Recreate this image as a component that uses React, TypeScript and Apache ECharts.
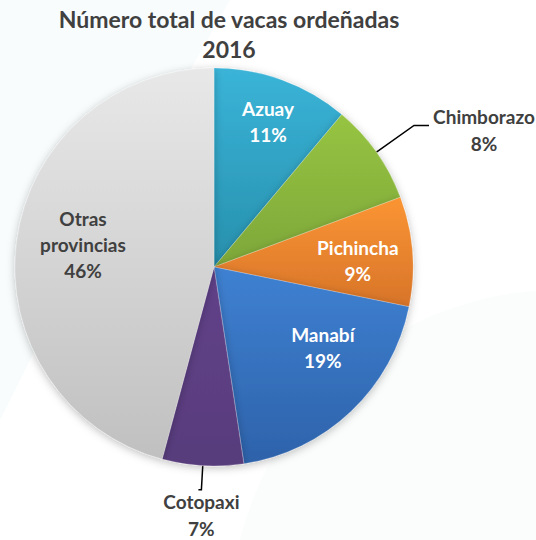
import React, { useEffect, useRef } from "react";
import * as echarts from "echarts";

const titleLines = ["Número total de vacas ordeñadas", "2016"];
const categories = ["Azuay", "Chimborazo", "Pichincha", "Manabí", "Cotopaxi", "Otras provincias"];
const shares = [11.1, 8.2, 8.9, 19.4, 6.6, 45.8];
const labelPercents = [11, 8, 9, 19, 7, 46];
const labelNames = ["Azuay", "Chimborazo", "Pichincha", "Manabí", "Cotopaxi", "Otras\nprovincias"];

const topColors = ["#3AB4D8", "#96C442", "#FB9533", "#3F81D2", "#61428A", "#E8E8E8"];
const bottomColors = ["#2790AD", "#7EA739", "#D7742A", "#2D62AA", "#583C7C", "#C0C0C0"];
const innerOffsets: Record<number, number[]> = { 0: [4, -8], 2: [-2, 5], 3: [8, -26], 5: [14, -3] };
const CHIMBORAZO = 1;
const COTOPAXI = 4;

export default function App() {
  const ref = useRef<HTMLDivElement>(null);
  useEffect(() => {
    document.body.style.margin = "0";
    const chart = echarts.init(ref.current!, null, { renderer: "svg" });
    const R = 199;
    const center = [214, 267];
    const grad = (i: number) =>
      new echarts.graphic.LinearGradient(0, 0, 0, 1, [
        { offset: 0, color: topColors[i] },
        { offset: 1, color: bottomColors[i] },
      ]);
    const labelFont = { fontFamily: "Lato", fontWeight: "bold", fontSize: 19, color: "#404040" };

    const mainData = categories.map((c, i) => {
      let label: any = { show: false };
      let labelLine: any = { show: false };
      if (i === CHIMBORAZO) {
        label = { show: true, formatter: `{n|${labelNames[i]}}\n{n|${labelPercents[i]}%}` };
        labelLine = { show: true, length: 46, length2: 15 };
      } else if (i === COTOPAXI) {
        label = { show: true, formatter: "{s| }", distanceToLabelLine: 0 };
        labelLine = { show: true, length: 24, length2: 3 };
      }
      return { name: c, value: shares[i], itemStyle: { color: grad(i) }, label, labelLine };
    });

    const overlayData = categories.map((c, i) => {
      if (i === CHIMBORAZO) {
        return { name: c, value: shares[i], label: { show: false } };
      }
      if (i === COTOPAXI) {
        return {
          name: c,
          value: shares[i],
          label: {
            show: true,
            position: "outside",
            distanceToLabelLine: 0,
            color: "#404040",
            formatter: `{a|${labelNames[i]}}\n{b|${labelPercents[i]}%}`,
          },
          labelLine: { show: false, length: 24, length2: 0 },
        };
      }
      return {
        name: c,
        value: shares[i],
        label: {
          show: true,
          formatter: `${labelNames[i]}\n${labelPercents[i]}%`,
          color: i === 5 ? "#404040" : "#FFFFFF",
          offset: innerOffsets[i] || [0, 0],
        },
      };
    });

    chart.setOption({
      animation: false,
      backgroundColor: "#FFFFFF",
      graphic: [
        {
          type: "polygon",
          shape: { points: [[0, 0], [230, 0], [60, 300], [0, 420]] },
          style: { fill: "rgba(225,240,246,0.22)" },
          silent: true,
          z: -10,
        },
        {
          type: "circle",
          shape: { cx: 560, cy: 620, r: 330 },
          style: { fill: "rgba(235,243,246,0.2)" },
          silent: true,
          z: -10,
        },
        {
          type: "text",
          x: 229,
          y: 4,
          style: {
            text: titleLines.join("\n"),
            textAlign: "center",
            fontFamily: "Lato",
            fontWeight: "bold",
            fontSize: 23,
            lineHeight: 30,
            fill: "#404040",
          },
          z: 10,
        },
      ],
      series: [
        {
          type: "pie",
          center,
          radius: [0, R],
          startAngle: 90,
          clockwise: true,
          avoidLabelOverlap: false,
          data: mainData,
          itemStyle: {
            borderColor: "rgba(255,255,255,0.35)",
            borderWidth: 0.6,
            shadowBlur: 8,
            shadowColor: "rgba(0,0,0,0.25)",
            shadowOffsetY: 2,
          },
          emphasis: { disabled: true },
          label: {
            position: "outside",
            overflow: "none",
            edgeDistance: 0,
            bleedMargin: 0,
            ...labelFont,
            distanceToLabelLine: 3,
            rich: {
              n: { ...labelFont, width: 108, align: "center", lineHeight: 27 },
              s: { fontSize: 1, width: 60, lineHeight: 2, color: "rgba(0,0,0,0)" },
            },
          },
          labelLine: {
            lineStyle: { color: "#000000", width: 1.5 },
            smooth: false,
            minTurnAngle: 0,
            maxSurfaceAngle: 180,
          },
          labelLayout: (params: any) => {
            const pts = params.labelLinePoints;
            if (!pts || params.dataIndex !== CHIMBORAZO) return {};
            const end = pts[pts.length - 1];
            return {
              x: end[0] + 1,
              y: end[1] + 5,
              align: "left",
              verticalAlign: "middle",
              labelLinePoints: pts,
            };
          },
        },
        {
          type: "pie",
          center,
          radius: [R * 0.44, R],
          startAngle: 90,
          clockwise: true,
          silent: true,
          avoidLabelOverlap: false,
          data: overlayData,
          itemStyle: { color: "rgba(0,0,0,0)" },
          emphasis: { disabled: true },
          label: {
            position: "inside",
            overflow: "none",
            edgeDistance: 0,
            bleedMargin: 0,
            fontFamily: "Lato",
            fontWeight: "bold",
            fontSize: 19,
            lineHeight: 26,
            align: "center",
            rich: {
              a: { ...labelFont, width: 90, align: "center", lineHeight: 34 },
              b: { ...labelFont, width: 90, align: "center", lineHeight: 20 },
            },
          },
          labelLine: { show: false },
          labelLayout: (params: any) => {
            if (params.dataIndex !== COTOPAXI) return {};
            const r = params.labelRect;
            return {
              x: r.x + r.width,
              y: r.y + r.height / 2 - 5,
              align: "center",
              verticalAlign: "top",
            };
          },
          z: 5,
        },
      ],
    });
    return () => chart.dispose();
  }, []);
  return <div ref={ref} style={{ width: 536, height: 540 }} />;
}
